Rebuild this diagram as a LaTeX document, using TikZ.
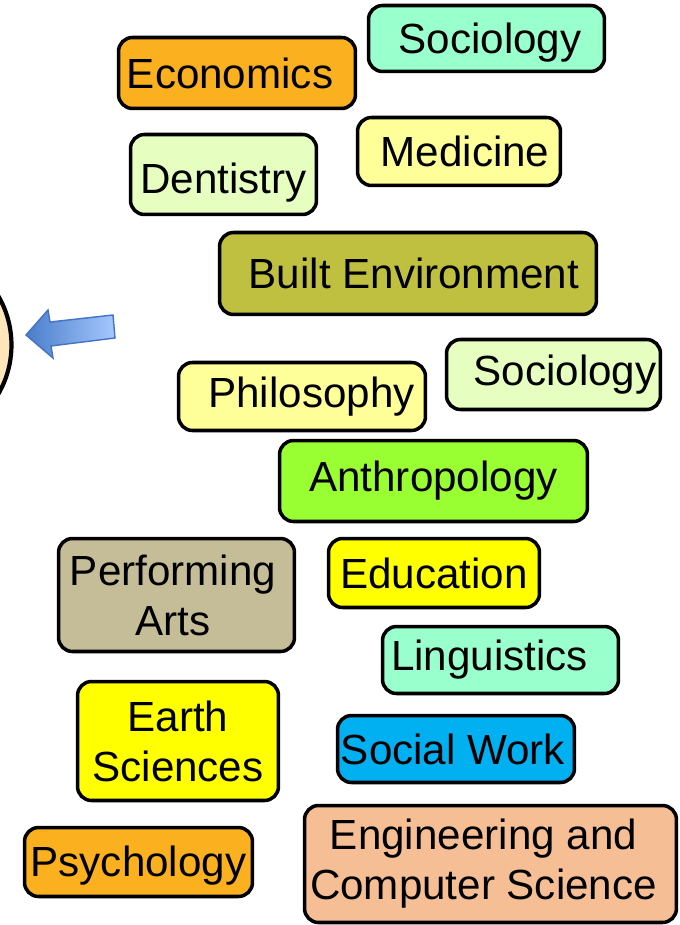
\documentclass[tikz,border=0pt]{standalone}
\usepackage{fontspec}
\setmainfont{Liberation Sans}
\usepackage{tikz}
\usetikzlibrary{positioning,arrows}

\definecolor{orangebox}{HTML}{FBB11F}
\definecolor{mintbox}{HTML}{99FFCC}
\definecolor{palegreen}{HTML}{E6FFC1}
\definecolor{paleyellow}{HTML}{FFFF99}
\definecolor{olivebox}{HTML}{BFC040}
\definecolor{limebox}{HTML}{99FF33}
\definecolor{sandbox}{HTML}{C4BD97}
\definecolor{yellowbox}{HTML}{FFFF00}
\definecolor{skybox}{HTML}{00B0F0}
\definecolor{peachbox}{HTML}{F5BE95}
\definecolor{circlefill}{HTML}{FFE6BA}
\definecolor{arrowedge}{HTML}{4472C4}
\definecolor{arrowdark}{HTML}{4A7DC9}
\definecolor{arrowlight}{HTML}{A5C8FF}

% move a one-line label down inside its box
\newcommand{\dropby}[2]{\raisebox{-#1}[0.61cm][0.18cm]{#2}}

\begin{document}
\begin{tikzpicture}[x=0.02cm, y=-0.02cm]
		\tikzset{subject/.style = {draw, line width=2pt, rounded corners=0.28cm, inner sep=1pt, align=center, font=\fontsize{24}{28.5}\selectfont}}
		\tikzset{pointer/.style = {draw=arrowedge, line width=0.8pt, left color=arrowdark, right color=arrowlight}}

		\useasboundingbox (0,0) rectangle (679,925);

		% circle cut by the left edge
		\begin{scope}
			\clip (0,0) rectangle (679,925);
			\node[circle, draw, line width=2.4pt, fill=circlefill, minimum size=3.9cm] (hub) at (-86,345){};
		\end{scope}

		% block arrow
		\coordinate (tip) at (26,335);
		\draw[pointer] (tip) -- (48,310) -- (50,322) -- (113,315) -- (115,338) -- (51,346) -- (53,358) -- cycle;

		% top row
		\node[subject, fill=orangebox, minimum width=4.74cm, minimum height=1.42cm] (econ) at (237,73){Economics\hspace*{0.28cm}};
		\node[subject, fill=mintbox, minimum width=4.72cm, minimum height=1.32cm] (soca) at (486.5,38.5){\hspace*{0.14cm}\dropby{0.08cm}{Sociology}};
		\node[subject, fill=palegreen, minimum width=3.72cm, minimum height=1.60cm] (dent) at (223.5,174.5){\dropby{0.16cm}{Dentistry}};
		\node[subject, fill=paleyellow, minimum width=4.06cm, minimum height=1.36cm] (med) at (459,151.5){\hspace*{0.24cm}Medicine};
		\node[subject, fill=olivebox, minimum width=7.54cm, minimum height=1.64cm] (built) at (408,273.5){\hspace*{0.24cm}Built Environment};

		% middle
		\node[subject, fill=paleyellow, minimum width=4.94cm, minimum height=1.36cm] (phil) at (302,396.5){\hspace*{0.38cm}Philosophy};
		\node[subject, fill=palegreen, minimum width=4.28cm, minimum height=1.40cm] (socb) at (553.5,374.5){\hspace*{0.46cm}Sociology};
		\node[subject, fill=limebox, minimum width=6.16cm, minimum height=1.62cm] (anth) at (433.5,481){Anthropology};
		\node[subject, fill=sandbox, minimum width=4.72cm, minimum height=2.26cm] (perf) at (176.5,595){Performing\hspace*{0.14cm}\\Arts\hspace*{0.14cm}};
		\node[subject, fill=yellowbox, minimum width=4.22cm, minimum height=1.38cm] (edu) at (434,573){Education};

		% bottom
		\node[subject, fill=mintbox, minimum width=4.72cm, minimum height=1.34cm] (ling) at (500.5,660){Linguistics\hspace*{0.44cm}};
		\node[subject, fill=yellowbox, minimum width=4.02cm, minimum height=2.38cm] (earth) at (178,741){Earth\\Sciences};
		\node[subject, fill=skybox, minimum width=4.74cm, minimum height=1.34cm] (socw) at (456,749){Social Work\hspace*{0.12cm}};
		\node[subject, fill=orangebox, minimum width=4.56cm, minimum height=1.38cm] (psych) at (138.5,862){\dropby{0.08cm}{Psychology}};
		\node[subject, fill=peachbox, minimum width=7.44cm, minimum height=2.34cm] (eng) at (490.5,864){Engineering and\hspace*{0.28cm}\\Computer Science\hspace*{0.28cm}};
	\end{tikzpicture}
\end{document}
